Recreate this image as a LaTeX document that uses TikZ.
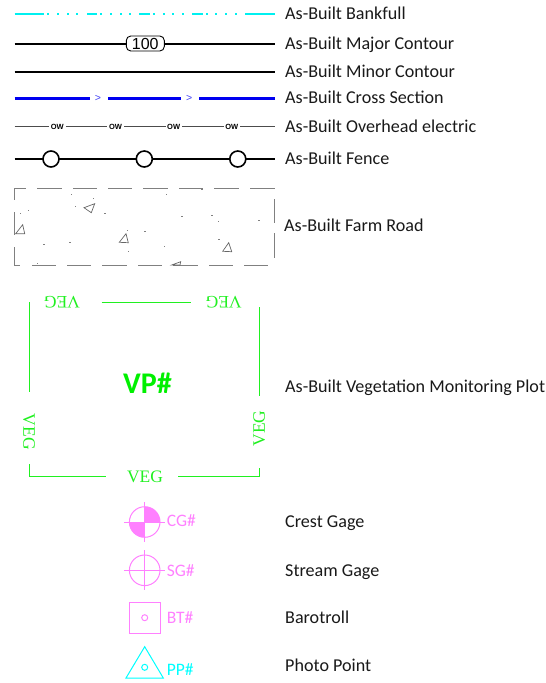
\documentclass[tikz,border=0pt]{standalone}
\usepackage{fontspec}
\setmainfont{Carlito}
\newfontfamily\vegfont{Liberation Serif}
\newfontfamily\arialfont{Liberation Sans}
\definecolor{vgreen}{HTML}{20F020}
\definecolor{vpgreen}{HTML}{00F000}
\definecolor{gagepink}{HTML}{FF80FF}
\definecolor{ptcyan}{HTML}{00FFFF}
\definecolor{bankcyan}{HTML}{00F0F0}
\definecolor{csblue}{HTML}{0000F0}
\definecolor{roadgray}{HTML}{808080}
\tikzset{
  lbl/.style={anchor=base west,inner sep=0pt,font=\fontsize{18.1}{20}\selectfont,text=black!90},
  bank/.style={draw=bankcyan,line width=2pt},
  contour/.style={draw=black,line width=2pt},
  csline/.style={draw=csblue,line width=3pt},
  owline/.style={draw=black!70,line width=1pt},
  owtext/.style={inner sep=0pt,font=\arialfont\bfseries\fontsize{7.5}{9}\selectfont,text=black},
  fenceline/.style={draw=black,line width=1.6pt},
  post/.style={circle,draw=black,line width=1.6pt,fill=white,minimum size=16pt,inner sep=0pt},
  road/.style={draw=roadgray,line width=1.2pt},
  rock/.style={draw=black!60,line width=.7pt,line join=miter},
  vegline/.style={draw=vgreen,line width=1.3pt},
  vegtext/.style={inner sep=0pt,text=vgreen,font=\vegfont\fontsize{17.5}{18}\selectfont},
  gage/.style={draw=gagepink,line width=1pt},
  gagetext/.style={anchor=base west,inner sep=0pt,text=gagepink,font=\fontsize{17.5}{18}\selectfont},
}
\begin{document}
\begin{tikzpicture}[x=1pt,y=-1pt]
\useasboundingbox (0,0) rectangle (546,683);
% labels
\node[lbl] (l1) at (285,19.3) {As-Built Bankfull};
\node[lbl] (l2) at (285,49.3) {As-Built Major Contour};
\node[lbl] (l3) at (285,77.3) {As-Built Minor Contour};
\node[lbl] (l4) at (285,103.3) {As-Built Cross Section};
\node[lbl] (l5) at (285,132.3) {As-Built Overhead electric};
\node[lbl] (l6) at (285,164) {As-Built Fence};
\node[lbl] (l7) at (284,231.3) {As-Built Farm Road};
\node[lbl] (l8) at (285,392.7) {As-Built Vegetation Monitoring Plot};
\node[lbl] (l9) at (285,527.3) {Crest Gage};
\node[lbl] (l10) at (285,576) {Stream Gage};
\node[lbl] (l11) at (285,623.3) {Barotroll};
\node[lbl] (l12) at (285,671.7) {Photo Point};
% bankfull
\foreach \a/\b in {14.5/44,87/97,139/150,192/203,245/275} \draw[bank] (\a,14) -- (\b,14);
\foreach \x in {48,58,68,77,101,111,121,130,154,164,173,183,207,216,226,236}
  \fill[bankcyan] (\x-.7,13) rectangle (\x+.7,15);
% major contour
\coordinate (mj1) at (14.5,43.5); \coordinate (mj2) at (275,43.5);
\node[draw=black,line width=.9pt,rounded corners=4.5pt,minimum width=38pt,minimum height=15pt,inner sep=0pt,font=\arialfont\fontsize{16}{16}\selectfont] (mjl) at (145.3,43.5) {100};
\draw[contour] (mj1) -- (mjl) (mjl) -- (mj2);
% minor contour
\coordinate (mn1) at (14.5,72); \coordinate (mn2) at (275,72);
\draw[contour] (mn1) -- (mn2);
% cross section
\coordinate (cs1) at (14.5,98.3); \coordinate (cs2) at (90,98.3);
\coordinate (cs3) at (108,98.3); \coordinate (cs4) at (181,98.3);
\coordinate (cs5) at (199,98.3); \coordinate (cs6) at (275,98.3);
\draw[csline] (cs1) -- (cs2) (cs3) -- (cs4) (cs5) -- (cs6);
\node[inner sep=0pt,text=csblue!75,font=\arialfont\fontsize{10.5}{11}\selectfont] (csa) at (98,98.3) {>};
\node[inner sep=0pt,text=csblue!75,font=\arialfont\fontsize{10.5}{11}\selectfont] (csb) at (189.3,98.3) {>};
% overhead electric
\coordinate (ow0) at (14.5,126.7); \coordinate (ow9) at (275,126.7);
\node[owtext] (ow1) at (57.3,126.7) {OW};
\node[owtext] (ow2) at (115.5,126.7) {OW};
\node[owtext] (ow3) at (173.7,126.7) {OW};
\node[owtext] (ow4) at (231.8,126.7) {OW};
\draw[owline] (ow0) -- (49,126.7) (66,126.7) -- (107,126.7) (124,126.7) -- (166,126.7) (182,126.7) -- (224,126.7) (240,126.7) -- (ow9);
% fence
\coordinate (f0) at (14.5,159); \coordinate (f9) at (275,159);
\draw[fenceline] (f0) -- (f9);
\node[post] (p1) at (51,159) {};
\node[post] (p2) at (144.3,159) {};
\node[post] (p3) at (237.8,159) {};
% farm road
\foreach \a/\b in {14/26,37/62,73/97,108/132,143/168,179/203,214/239,250/275} \draw[road] (\a,188.5) -- (\b,188.5);
\foreach \a/\b in {14/20,32/56,67/91,102/127,138/162,173/198,209/233,244/268} \draw[road] (\a,265.5) -- (\b,265.5);
\foreach \a/\b in {188/200,212/235,247/265} \draw[road] (14.5,\a) -- (14.5,\b);
\foreach \a/\b in {199/223,233/258} \draw[road] (274.5,\a) -- (274.5,\b);
\foreach \x/\y in {215/58,281/70,227/95,62/116,85/106,315/116,499/58,606/44,546/125,636/122,656/139,777/135,383/165,435/170,132/208,210/202,386/229,493/214,657/192,113/265}
  \fill[black!50] ({\x/3-.6},{175+\y/3-.5}) rectangle ({\x/3+.6},{175+\y/3+.5});
\draw[rock] (84,207.7) -- (94.7,203.7) -- (91.3,212.7) -- cycle;
\draw[rock] (15.7,233.7) -- (24.7,233.7) -- (22.7,224.7) -- cycle;
\draw[rock] (119.3,242.3) -- (128.3,242.7) -- (126,233.7) -- cycle;
\draw[rock] (222.7,251.3) -- (231.7,251.7) -- (228.7,242.7) -- cycle;
\draw[rock] (171.7,265) -- (180.7,261.7) -- (180,265) -- cycle;
% vegetation plot
\coordinate (v3) at (101.7,302.5); \coordinate (v4) at (191,302.5);
\coordinate (v8) at (29,476.5);
\coordinate (v9) at (106,476.5); \coordinate (v10) at (178,476.5);
\coordinate (v11) at (260,476.5);
\draw[vegline] (v3) -- (v4) (v8) -- (v9) (v10) -- (v11);
\fill[vgreen] (29,302) rectangle (30.2,392);
\fill[vgreen] (259,307) rectangle (260.2,395.7);
\fill[vgreen] (29,464) rectangle (30.2,477);
\fill[vgreen] (259,468) rectangle (260.2,477);
\node[vegtext,rotate=180] (vt1) at (62,302.5) {VEG};
\node[vegtext,rotate=180] (vt2) at (223.7,302.5) {VEG};
\node[vegtext,rotate=-90] (vt3) at (29,431.7) {VEG};
\node[vegtext,rotate=90] (vt4) at (259.3,428.5) {VEG};
\node[vegtext] (vt5) at (145,477.3) {VEG};
\node[anchor=base,inner sep=0pt,text=vpgreen,font=\bfseries\fontsize{30}{32}\selectfont] (vp) at (147.5,393.3) {VP\#};
% crest gage
\coordinate (cg) at (144.7,522);
\fill[gagepink] (cg) -- (144.7,506.7) arc[start angle=90,end angle=0,radius=15.3pt] -- cycle;
\fill[gagepink] (cg) -- (144.7,537.3) arc[start angle=-90,end angle=-180,radius=15.3pt] -- cycle;
\draw[gage] (cg) circle[radius=15.3pt];
\draw[gage] (124,522) -- (165,522) (144.7,502) -- (144.7,542);
\node[gagetext] (cgt) at (166.7,526.7) {CG\#};
% stream gage
\coordinate (sg) at (144.7,570.3);
\draw[gage] (sg) circle[radius=15.3pt];
\draw[gage] (124,570.3) -- (165,570.3) (144.7,550.3) -- (144.7,590.3);
\node[gagetext] (sgt) at (166.7,576) {SG\#};
% barotroll
\node[draw=gagepink,line width=1pt,minimum size=30.7pt,inner sep=0pt] (bt) at (144.7,618) {};
\coordinate (btk) at (144.7,601.5);
\draw[gage] (btk) -- (bt.north);
\node[circle,draw=gagepink,line width=1pt,minimum size=6pt,inner sep=0pt] (btc) at (144.7,617.7) {};
\node[gagetext] (btt) at (166.7,623.3) {BT\#};
% photo point
\coordinate (pa) at (144.7,646.7); \coordinate (pb) at (163.3,678); \coordinate (pc) at (126,678);
\draw[draw=ptcyan,line width=1pt,line join=miter] (pa) -- (pb) -- (pc) -- cycle;
\node[circle,draw=ptcyan,line width=1pt,minimum size=6pt,inner sep=0pt] (ppc) at (144.7,667.3) {};
\node[gagetext,text=ptcyan] (ppt) at (166.7,675.7) {PP\#};
\end{tikzpicture}
\end{document}
